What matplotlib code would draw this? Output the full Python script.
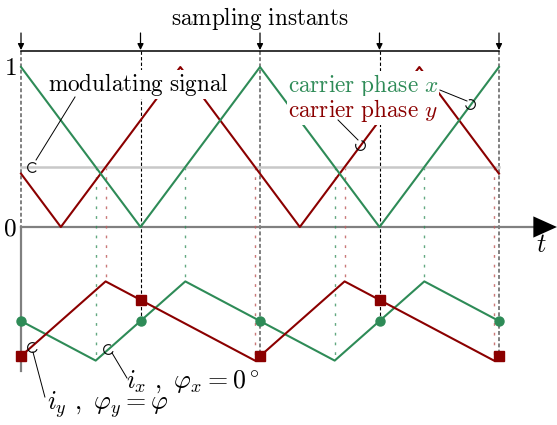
import numpy as np
import matplotlib
matplotlib.use("Agg")
import matplotlib.pyplot as plt
from matplotlib.path import Path
from matplotlib.markers import MarkerStyle
from matplotlib.transforms import Affine2D
from matplotlib.patches import ArrowStyle

plt.rcParams['mathtext.fontset'] = 'cm'

GREEN = '#2e8b57'
RED = '#8b0000'

# sampling instants (t in units of the sampling period)
t_samp = [0, 1, 2, 3, 4]

# modulating signal level
m_level = 0.375

# carrier phase x: triangle vertices
cx_t = [0, 1, 2, 3, 4]
cx_v = [1, 0, 1, 0, 1]

# carrier phase y: triangle vertices (shifted by 120 deg)
cy_t = [0, 1/3, 4/3, 7/3, 10/3, 4]
cy_v = [1/3, 0, 1, 0, 1, 1/3]

# current i_x vertices
ix_t = [0, 0.625, 1.375, 2.625, 3.375, 4]
ix_v = [-0.5875, -0.835, -0.34, -0.835, -0.34, -0.5875]

# current i_y vertices
iy_t = [0, 0.708, 1.958, 2.708, 3.958, 4]
iy_v = [-0.807, -0.34, -0.835, -0.34, -0.835, -0.807]

# sampled values
ix_samp = [-0.5875, -0.5875, -0.5875, -0.5875, -0.5875]
iy_samp = [-0.807, -0.456, -0.807, -0.456, -0.807]

# switching instants (carrier crosses modulating signal)
sw_x_t = [0.625, 1.375, 2.625, 3.375]
sw_x_v = [-0.835, -0.34, -0.835, -0.34]
sw_y_t = [0.708, 1.958, 2.708, 3.958]
sw_y_v = [-0.34, -0.835, -0.34, -0.835]

fig = plt.figure(figsize=(5.57, 4.25), dpi=100)
ax = fig.add_axes([0, 0, 1, 1])
ax.set_xlim(-21 / 119.5, 536 / 119.5)
ax.set_ylim(-198 / 160, 227 / 160)
ax.axis('off')

FS = 16.7

# axes
ax.plot([0, 0], [-0.9, 0], color='#808080', lw=1.6, zorder=1)
ax.plot([0, 4.38], [0, 0], color='#808080', lw=1.6, zorder=1)
ax.annotate('', xy=(4.485, 0), xytext=(4.3, 0),
            arrowprops=dict(arrowstyle=ArrowStyle('-|>', head_length=1.0, head_width=0.45),
                            mutation_scale=17, color='black', lw=0, shrinkA=0, shrinkB=0))
ax.text(-0.035, 0.995, r'$1$', ha='right', va='center', fontsize=FS + 1.5)
ax.text(-0.035, -0.01, r'$0$', ha='right', va='center', fontsize=FS + 1.5)
ax.text(4.35, -0.115, r'$t$', ha='center', va='center', fontsize=FS + 2)

# sampling instants
ax.plot([0, 4], [1.1, 1.1], color='black', lw=1.1, zorder=2)
for k, t in enumerate(t_samp):
    ax.annotate('', xy=(t, 1.106), xytext=(t, 1.2125),
                arrowprops=dict(arrowstyle='-|>', mutation_scale=9, color='black',
                                lw=0.9, shrinkA=0, shrinkB=0))
    if k % 2 == 0:
        ax.plot([t, t], [1.1, iy_samp[k]], color='#808080', lw=1.4,
                ls=(0, (2, 1.2)), zorder=1)
    else:
        ax.plot([t, t], [1.1, ix_samp[k]], color='black', lw=0.8,
                ls=(0, (3, 2)), zorder=1)
ax.text(2.0, 1.30, r'$\mathrm{sampling\ instants}$', ha='center', va='center', fontsize=FS)

# switching projections
for t, v in zip(sw_x_t, sw_x_v):
    ax.plot([t, t], [m_level, v], color=GREEN, alpha=0.75, lw=1.0,
            ls=(0, (2, 5)), zorder=1)
for t, v in zip(sw_y_t, sw_y_v):
    ax.plot([t, t], [m_level, v], color='#c06060', alpha=0.85, lw=1.0,
            ls=(0, (2, 5)), zorder=1)

# modulating signal and carriers
ax.plot([0, 4], [m_level, m_level], color='#c8c8c8', lw=1.8, zorder=2)
ax.plot(cy_t, cy_v, color=RED, lw=1.5, zorder=3)
ax.plot(cx_t, cx_v, color=GREEN, lw=1.5, zorder=3)

# currents
ax.plot(ix_t, ix_v, color=GREEN, lw=1.5, zorder=3)
ax.plot(iy_t, iy_v, color=RED, lw=1.5, zorder=3)
ax.plot(t_samp, ix_samp, 'o', color=GREEN, ms=6.5, zorder=5)
ax.plot(t_samp, iy_samp, 's', color=RED, ms=7, zorder=5)

# labels with white background
box = dict(facecolor='white', edgecolor='none', pad=0.5)
ax.text(0.226, 0.85, r'$\mathrm{modulating\ signal}$', ha='left', va='baseline',
        bbox=box, zorder=6, fontsize=FS)
ax.text(2.234, 0.845, r'$\mathrm{carrier\ phase}\ x$', ha='left', va='baseline',
        color=GREEN, bbox=box, zorder=6, fontsize=FS)
ax.text(2.234, 0.6875, r'$\mathrm{carrier\ phase}\ y$', ha='left', va='baseline',
        color=RED, bbox=box, zorder=6, fontsize=FS)
ax.text(0.879, -1.006, r'$i_x\ ,\ \varphi_x = 0^\circ$', ha='left', va='baseline',
        fontsize=FS + 2, zorder=6)
ax.text(0.215, -1.144, r'$i_y\ ,\ \varphi_y = \varphi$', ha='left', va='baseline',
        fontsize=FS + 2, zorder=6)

# callout pins: (line start, line end, arc position, arc rotation)
pins = [
    ((0.452, 0.8125), (0.126, 0.419), (0.09, 0.375), 0),
    ((3.506, 0.856), (3.732, 0.7875), (3.757, 0.769), 150),
    ((2.653, 0.669), (2.82, 0.544), (2.84, 0.515), 120),
    ((0.887, -0.944), (0.762, -0.7875), (0.728, -0.764), 20),
    ((0.2, -1.0625), (0.1, -0.781), (0.092, -0.752), 20),
]
arc = Path.arc(40, 320)
for (x0, y0), (x1, y1), (xc, yc), rot in pins:
    ax.plot([x0, x1], [y0, y1], color='black', lw=0.7, zorder=7)
    mk = MarkerStyle(arc, transform=Affine2D().rotate_deg(rot))
    ax.plot([xc], [yc], marker=mk, ms=7, mfc='none', mec='black', mew=0.8, zorder=7)

fig.savefig('out.png', dpi=100)
